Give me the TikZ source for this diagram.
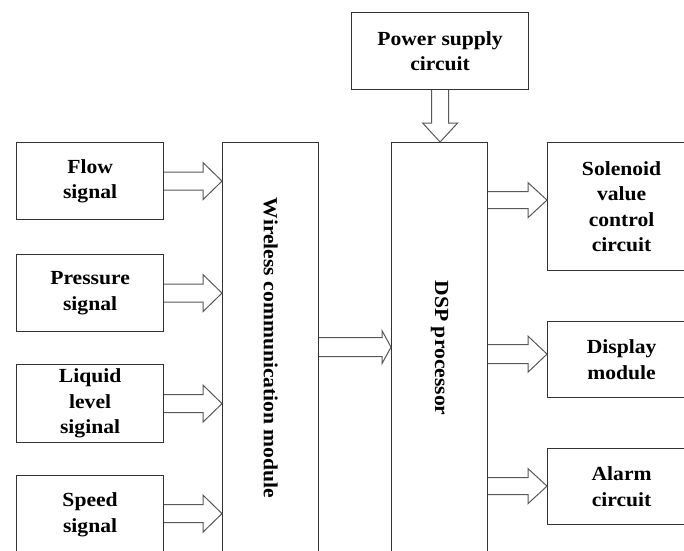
\documentclass[tikz,border=0pt]{standalone}
\usepackage{fontspec}
\setmainfont{Liberation Serif}[FakeStretch=1.08]
\usetikzlibrary{calc}
\definecolor{boxc}{HTML}{333333}
\definecolor{arrc}{HTML}{585858}
\tikzset{
  box/.style={draw=boxc, line width=1.2pt, align=center, inner sep=0pt, anchor=north west,
    font=\bfseries\fontsize{20}{25.5}\selectfont},
  blk/.style={draw=arrc, line width=1pt, line join=miter},
}
\newcommand\rarr[5]{\draw[blk] ($(#1)+(0,#3)$) -- ($(#2)+(-#5,#3)$) -- ($(#2)+(-#5,#4)$) -- (#2) -- ($(#2)+(-#5,-#4)$) -- ($(#2)+(-#5,-#3)$) -- ($(#1)+(0,-#3)$);}
\begin{document}
\begin{tikzpicture}[x=1pt,y=-1pt]
\useasboundingbox (0,0) rectangle (684,550);
\clip (0,0) rectangle (684,550);
\fill[white] (0,0) rectangle (684,550);
% left inputs
\node[box, minimum width=147pt, minimum height=77pt] (flow) at (16,142) {Flow\\signal};
\node[box, minimum width=147pt, minimum height=77pt] (pres) at (16,254) {Pressure\\signal};
\node[box, minimum width=147pt, minimum height=78pt] (liq) at (16,364) {Liquid\\level\\siginal};
\node[box, minimum width=147pt, minimum height=78pt] (speed) at (16,475) {Speed\\signal};
% central blocks
\node[box, minimum width=96pt, minimum height=411pt] (wl) at (222,142) {\rotatebox{-90}{Wireless communication module}};
\node[box, minimum width=96pt, minimum height=411pt] (dsp) at (391,142) {\rotatebox{-90}{DSP processor}};
\node[box, minimum width=177pt, minimum height=77pt] (power) at (351,12) {Power supply\\circuit};
% outputs
\node[box, minimum width=148pt, minimum height=128pt] (sol) at (547,142) {Solenoid\\value\\control\\circuit};
\node[box, minimum width=148pt, minimum height=76pt] (disp) at (547,321) {Display\\module};
\node[box, minimum width=148pt, minimum height=76pt] (alarm) at (547,448) {Alarm\\circuit};
% arrow end points
\coordinate (t1) at (wl.west|-flow.east);
\coordinate (t2) at (wl.west|-pres.east);
\coordinate (t3) at (wl.west|-liq.east);
\coordinate (t4) at ($(wl.west|-speed.east)+(0,-1)$);
\coordinate (f4) at ($(speed.east)+(0,-1)$);
\coordinate (m0) at ($(wl.east)+(0,-1)$);
\coordinate (m1) at ($(dsp.west)+(0,-1)$);
\coordinate (s0) at ($(dsp.east|-sol.west)+(0,-6.5)$);
\coordinate (s1) at ($(sol.west)+(0,-6.5)$);
\coordinate (d0) at ($(dsp.east|-disp.west)+(0,-5.5)$);
\coordinate (d1) at ($(disp.west)+(0,-5.5)$);
\coordinate (a0) at ($(dsp.east|-alarm.west)+(0,-0.5)$);
\coordinate (a1) at ($(alarm.west)+(0,-0.5)$);
\coordinate (p1) at (power.south|-dsp.north);
% arrows
\rarr{flow.east}{t1}{9}{18.5}{19}
\rarr{pres.east}{t2}{9}{18.5}{19}
\rarr{liq.east}{t3}{9}{18.5}{19}
\rarr{f4}{t4}{9}{18.5}{19}
\rarr{m0}{m1}{9.5}{16.5}{9}
\rarr{s0}{s1}{8.5}{17.5}{19}
\rarr{d0}{d1}{9.5}{18}{19}
\rarr{a0}{a1}{8.5}{17.5}{19}
\draw[blk] ($(power.south)+(-8.5,0)$) -- ($(p1)+(-8.5,-19)$) -- ($(p1)+(-17.5,-19)$) -- (p1) -- ($(p1)+(17.5,-19)$) -- ($(p1)+(8.5,-19)$) -- ($(power.south)+(8.5,0)$);
\end{tikzpicture}
\end{document}
